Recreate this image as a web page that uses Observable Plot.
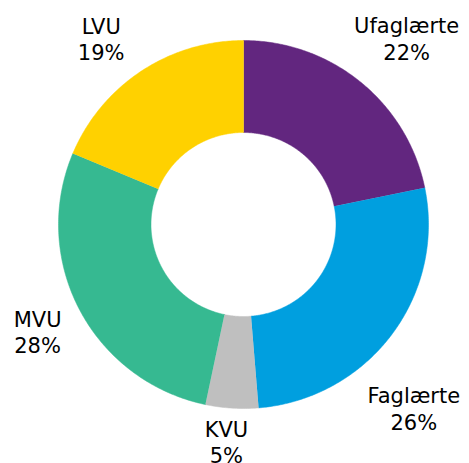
<!DOCTYPE html>
<html><head><meta charset="utf-8">
<script src="https://cdn.jsdelivr.net/npm/d3@7"></script>
<script src="https://cdn.jsdelivr.net/npm/@observablehq/plot@0.6"></script>
<style>body{margin:0;background:#fff}</style>
</head><body><div id="chart"></div>
<script>
const categories = ["Ufaglærte", "Faglærte", "KVU", "MVU", "LVU"];
const shares = [21.8, 26.9, 4.6, 28.0, 18.7];
const pctLabels = ["22%", "26%", "5%", "28%", "19%"];
const colors = ["#62267F", "#009FDF", "#BFBFBF", "#36B991", "#FFD100"];
// label layout nudges in pixels (dx, dy) from a point at radius 1.3 on the slice's mid-angle
const labelNudge = [[11, -1], [-22, 40], [-2, -22], [7, -4], [-9, 13]];

const innerR = 0.5, outerR = 1, unit = 185;
const total = d3.sum(shares);
const pts = [];
const labels = [];
let acc = 0;
categories.forEach((c, i) => {
  const a0 = acc / total * 2 * Math.PI;
  acc += shares[i];
  const a1 = acc / total * 2 * Math.PI;
  const n = Math.max(8, Math.ceil((a1 - a0) / 0.01));
  for (let k = 0; k <= n; k++) {
    const a = a0 + (a1 - a0) * k / n;
    pts.push({key: c, x: outerR * Math.sin(a), y: outerR * Math.cos(a)});
  }
  for (let k = n; k >= 0; k--) {
    const a = a0 + (a1 - a0) * k / n;
    pts.push({key: c, x: innerR * Math.sin(a), y: innerR * Math.cos(a)});
  }
  const m = (a0 + a1) / 2;
  labels.push({
    text: c + "\n" + pctLabels[i],
    x: 1.3 * Math.sin(m) + labelNudge[i][0] / unit,
    y: 1.3 * Math.cos(m) - labelNudge[i][1] / unit
  });
});

const chart = Plot.plot({
  width: 469, height: 463,
  marginLeft: 58, marginRight: 41, marginTop: 40, marginBottom: 55,
  x: {domain: [-1, 1], axis: null},
  y: {domain: [-1, 1], axis: null},
  color: {domain: categories, range: colors},
  style: {fontFamily: "DejaVu Sans", background: "#fff"},
  marks: [
    Plot.line(pts, {x: "x", y: "y", z: "key", fill: "key", stroke: "key", strokeWidth: 0.5, curve: "linear"}),
    Plot.text(labels, {x: "x", y: "y", text: "text", fontSize: 21, lineHeight: 1.26, lineAnchor: "middle", textAnchor: "middle", fill: "#000"})
  ]
});
document.getElementById("chart").appendChild(chart);
</script>
</body></html>
